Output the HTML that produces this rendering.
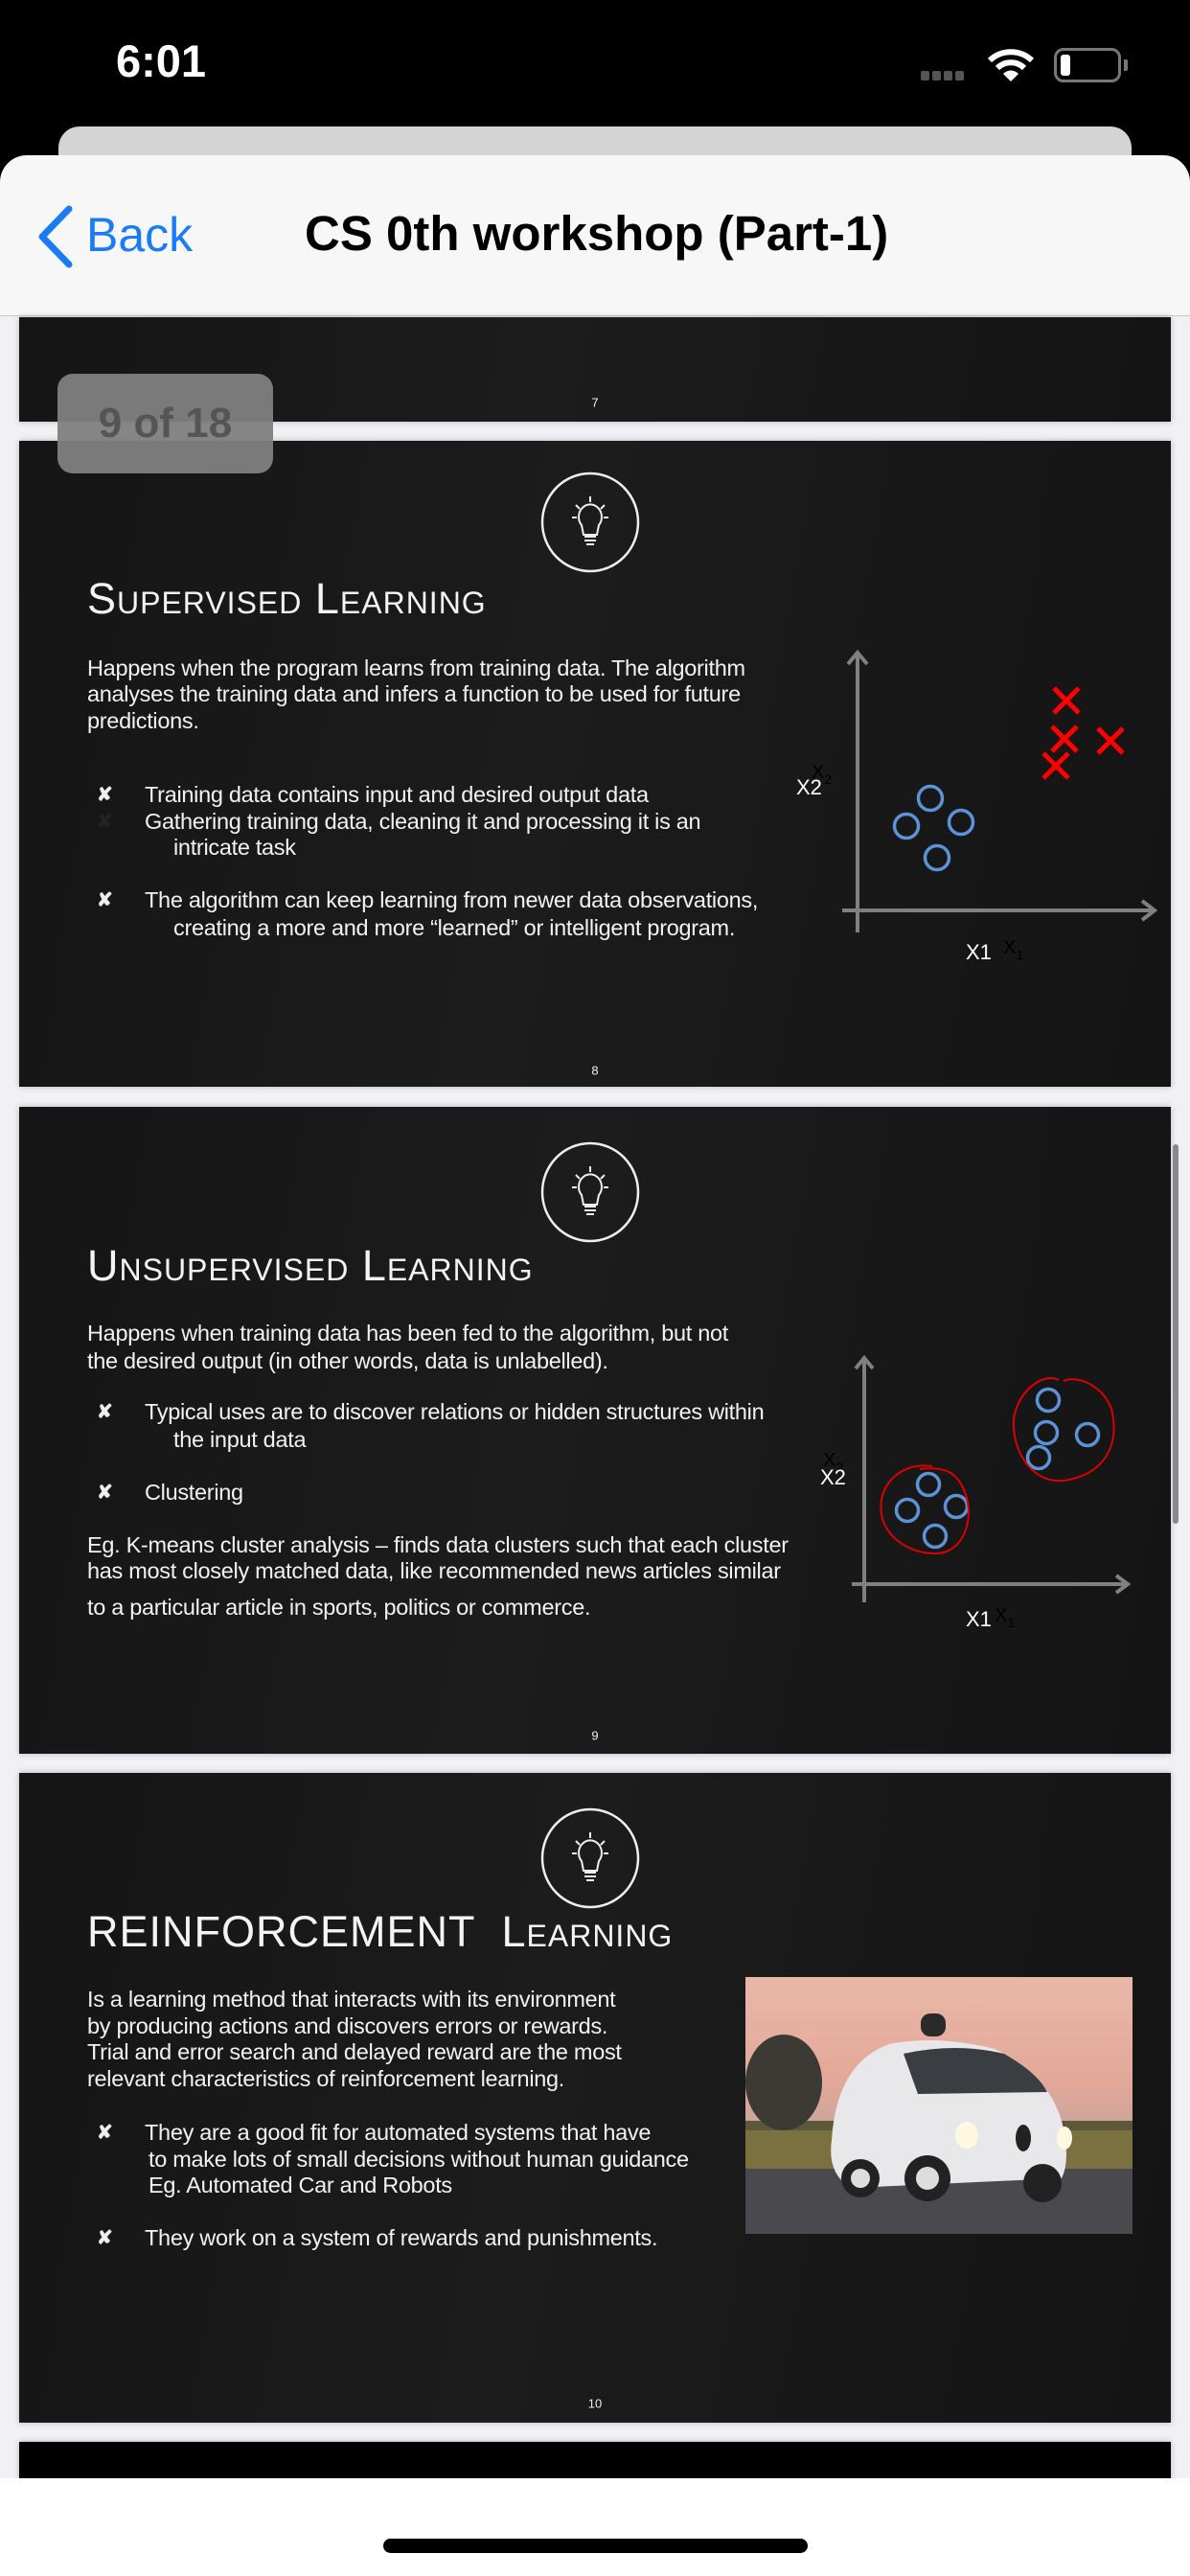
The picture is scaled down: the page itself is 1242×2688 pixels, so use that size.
<!DOCTYPE html>
<html><head><meta charset="utf-8">
<style>
*{margin:0;padding:0;box-sizing:border-box}
body{width:1242px;height:2688px;background:#f0f0f5;position:relative;overflow:hidden;font-family:"Liberation Sans",sans-serif}
.abs{position:absolute}
.status{left:0;top:0;width:1242px;height:200px;background:#000}
.slide{position:absolute;left:20px;width:1202px;background:linear-gradient(100deg,#151515 0%,#1c1c1d 45%,#141414 100%);box-shadow:0 0 6px rgba(0,0,0,.25);overflow:hidden}
.t{position:absolute;white-space:nowrap;color:#f2f2f2;font-size:23.5px;line-height:28px;transform:translateY(-50%);letter-spacing:-0.3px}
.title{position:absolute;white-space:nowrap;color:#f4f4f4;font-size:45px;font-variant:small-caps;letter-spacing:1px;transform:translateY(-50%)}
.b{position:absolute;color:#eee;font-size:20px;font-weight:bold;transform:translateY(-50%)}
.pn{position:absolute;left:0;width:1202px;text-align:center;color:#eee;font-size:13px;transform:translateY(-50%)}
</style></head><body>
<div class="abs status"></div>
<div class="abs" style="left:121px;top:36px;color:#fff;font-size:47px;font-weight:bold">6:01</div>
<div class="abs" style="left:961px;top:74px;width:9px;height:10px;background:#555;border-radius:2px"></div>
<div class="abs" style="left:973px;top:74px;width:9px;height:10px;background:#555;border-radius:2px"></div>
<div class="abs" style="left:985px;top:74px;width:9px;height:10px;background:#555;border-radius:2px"></div>
<div class="abs" style="left:997px;top:74px;width:9px;height:10px;background:#555;border-radius:2px"></div>
<svg class="abs" style="left:1030px;top:48px" width="50" height="40" viewBox="0 0 50 40"><path d="M3 15 A32 32 0 0 1 47 15" stroke="#fff" stroke-width="6" fill="none"/><path d="M11 23 A20 20 0 0 1 39 23" stroke="#fff" stroke-width="6" fill="none"/><path d="M25 37 L17 29 A11 11 0 0 1 33 29 Z" fill="#fff"/></svg>
<div class="abs" style="left:1100px;top:50px;width:70px;height:36px;border:3px solid #777;border-radius:10px"></div>
<div class="abs" style="left:1107px;top:57px;width:10px;height:22px;background:#fff;border-radius:3px"></div>
<div class="abs" style="left:1173px;top:62px;width:4px;height:12px;background:#777;border-radius:0 2px 2px 0"></div>
<div class="abs" style="left:61px;top:132px;width:1120px;height:60px;background:#d4d4d4;border-radius:22px 22px 0 0"></div>
<div class="abs" style="left:0;top:162px;width:1242px;height:168px;background:#f7f7f7;border-radius:28px 28px 0 0;border-bottom:1px solid #c8c8c8"></div>
<svg class="abs" style="left:34px;top:212px" width="46" height="70"><path d="M38 6 L10 35 L38 64" stroke="#1a7cf5" stroke-width="7" fill="none" stroke-linecap="round" stroke-linejoin="round"/></svg>
<div class="abs" style="left:90px;top:216px;color:#1a7cf5;font-size:50px">Back</div>
<div class="abs" style="left:318px;top:214px;color:#000;font-size:51px;font-weight:bold;letter-spacing:0px">CS 0th workshop (Part-1)</div>

<!-- slide 7 -->
<div class="slide" style="top:331px;height:109px"><div class="pn" style="top:89px">7</div></div>

<!-- slide 8 -->
<div class="slide" style="top:460px;height:674px">
<svg class="abs" style="left:541px;top:30px" width="110" height="110"><ellipse cx="55" cy="55" rx="50" ry="51" stroke="#eee" stroke-width="2.5" fill="none"/><path d="M46 58 a12 13 0 1 1 18 0 l-2 10 h-14 z" stroke="#eee" stroke-width="2" fill="none"/><path d="M49 70h12M49 74h12M51 78h8M55 28v6M40 37l4 4M70 37l-4 4M36 50h5M74 50h-5" stroke="#eee" stroke-width="2"/></svg>
<div class="title" style="left:71px;top:165px">Supervised Learning</div>
<div class="t" style="left:71px;top:237px">Happens when the program learns from training data. The algorithm</div>
<div class="t" style="left:71px;top:264px">analyses the training data and infers a function to be used for future</div>
<div class="t" style="left:71px;top:292px">predictions.</div>
<div class="b" style="left:81px;top:369px">✘</div><div class="t" style="left:131px;top:369px">Training data contains input and desired output data</div>
<div class="b" style="left:81px;top:397px;color:#222">✘</div><div class="t" style="left:131px;top:397px">Gathering training data, cleaning it and processing it is an</div>
<div class="t" style="left:161px;top:424px">intricate task</div>
<div class="b" style="left:81px;top:479px">✘</div><div class="t" style="left:131px;top:479px">The algorithm can keep learning from newer data observations,</div>
<div class="t" style="left:161px;top:508px">creating a more and more “learned” or intelligent program.</div>
<svg class="abs" style="left:760px;top:190px" width="440" height="360" viewBox="780 650 440 360">
<g stroke="#808080" stroke-width="4" fill="none"><path d="M895 683 V973 M879 950 H1203"/><path d="M885 693 L895 681 L905 693 M1192 940 L1205 950 L1192 960"/></g>
<g stroke="#5b93d6" stroke-width="3.5" fill="none"><circle cx="971" cy="833" r="12.5"/><circle cx="946" cy="862" r="12.5"/><circle cx="1003" cy="858" r="12.5"/><circle cx="978" cy="895" r="12.5"/></g>
<g stroke="#f00" stroke-width="5"><path d="M1100 718l26 26M1126 718l-26 26M1098 758l26 26M1124 758l-26 26M1146 760l26 26M1172 760l-26 26M1089 786l26 26M1115 786l-26 26"/></g>
<text x="847" y="812" font-size="20" fill="#000" font-family="Liberation Sans">X<tspan font-size="14" dy="6">2</tspan></text>
<text x="831" y="829" font-size="22" fill="#fff" font-family="Liberation Sans">X2</text>
<text x="1008" y="1001" font-size="22" fill="#fff" font-family="Liberation Sans">X1</text>
<text x="1047" y="995" font-size="20" fill="#000" font-family="Liberation Sans">X<tspan font-size="14" dy="6">1</tspan></text>
</svg>
<div class="pn" style="top:657px">8</div>
</div>

<!-- slide 9 -->
<div class="slide" style="top:1155px;height:675px">
<svg class="abs" style="left:541px;top:34px" width="110" height="110"><ellipse cx="55" cy="55" rx="50" ry="51" stroke="#eee" stroke-width="2.5" fill="none"/><path d="M46 58 a12 13 0 1 1 18 0 l-2 10 h-14 z" stroke="#eee" stroke-width="2" fill="none"/><path d="M49 70h12M49 74h12M51 78h8M55 28v6M40 37l4 4M70 37l-4 4M36 50h5M74 50h-5" stroke="#eee" stroke-width="2"/></svg>
<div class="title" style="left:71px;top:166px">Unsupervised Learning</div>
<div class="t" style="left:71px;top:236px">Happens when training data has been fed to the algorithm, but not</div>
<div class="t" style="left:71px;top:265px">the desired output (in other words, data is unlabelled).</div>
<div class="b" style="left:81px;top:318px">✘</div><div class="t" style="left:131px;top:318px">Typical uses are to discover relations or hidden structures within</div>
<div class="t" style="left:161px;top:347px">the input data</div>
<div class="b" style="left:81px;top:402px">✘</div><div class="t" style="left:131px;top:402px">Clustering</div>
<div class="t" style="left:71px;top:457px">Eg. K-means cluster analysis – finds data clusters such that each cluster</div>
<div class="t" style="left:71px;top:484px">has most closely matched data,  like recommended news articles similar</div>
<div class="t" style="left:71px;top:522px">to a particular article in sports, politics or commerce.</div>
<svg class="abs" style="left:760px;top:225px" width="440" height="360" viewBox="780 1380 440 360">
<g stroke="#808080" stroke-width="4" fill="none"><path d="M902 1418 V1672 M889 1653 H1175"/><path d="M893 1428 L902 1417 L911 1428 M1165 1644 L1177 1653 L1165 1662"/></g>
<g stroke="#5b93d6" stroke-width="3.5" fill="none"><circle cx="969" cy="1549" r="11.5"/><circle cx="947" cy="1576" r="11.5"/><circle cx="998" cy="1572" r="11.5"/><circle cx="976" cy="1603" r="11.5"/><circle cx="1094" cy="1461" r="11.5"/><circle cx="1092" cy="1495" r="11.5"/><circle cx="1135" cy="1497" r="11.5"/><circle cx="1084" cy="1521" r="11.5"/></g>
<g stroke="#d00" stroke-width="2" fill="none"><path d="M973 1530 C940 1525 915 1550 920 1580 C925 1610 960 1625 985 1620 C1010 1612 1015 1580 1008 1560 C1000 1535 985 1530 960 1533"/><path d="M1105 1440 C1085 1430 1055 1460 1058 1490 C1060 1520 1080 1548 1110 1545 C1150 1540 1170 1510 1160 1470 C1150 1445 1125 1435 1110 1441"/></g>
<text x="859" y="1530" font-size="20" fill="#000" font-family="Liberation Sans">X<tspan font-size="14" dy="6">2</tspan></text>
<text x="856" y="1549" font-size="22" fill="#fff" font-family="Liberation Sans">X2</text>
<text x="1008" y="1697" font-size="22" fill="#fff" font-family="Liberation Sans">X1</text>
<text x="1038" y="1692" font-size="20" fill="#000" font-family="Liberation Sans">X<tspan font-size="14" dy="6">1</tspan></text>
</svg>
<div class="pn" style="top:656px">9</div>
</div>

<!-- slide 10 -->
<div class="slide" style="top:1850px;height:678px">
<svg class="abs" style="left:541px;top:34px" width="110" height="110"><ellipse cx="55" cy="55" rx="50" ry="51" stroke="#eee" stroke-width="2.5" fill="none"/><path d="M46 58 a12 13 0 1 1 18 0 l-2 10 h-14 z" stroke="#eee" stroke-width="2" fill="none"/><path d="M49 70h12M49 74h12M51 78h8M55 28v6M40 37l4 4M70 37l-4 4M36 50h5M74 50h-5" stroke="#eee" stroke-width="2"/></svg>
<div class="title" style="left:71px;top:166px">REINFORCEMENT&nbsp; Learning</div>
<div class="t" style="left:71px;top:236px">Is a learning method that interacts with its environment</div>
<div class="t" style="left:71px;top:264px">by producing actions and discovers errors or rewards.</div>
<div class="t" style="left:71px;top:291px">Trial and error search and delayed reward are the most</div>
<div class="t" style="left:71px;top:319px">relevant characteristics of reinforcement learning.</div>
<div class="b" style="left:81px;top:375px">✘</div><div class="t" style="left:131px;top:375px">They are a good fit for automated systems that have</div>
<div class="t" style="left:135px;top:403px">to make lots of small decisions without human guidance</div>
<div class="t" style="left:135px;top:430px">Eg. Automated Car and Robots</div>
<div class="b" style="left:81px;top:485px">✘</div><div class="t" style="left:131px;top:485px">They work on a system of rewards and punishments.</div>
<svg class="abs" style="left:758px;top:213px" width="404" height="268" viewBox="0 0 404 268">
<defs><linearGradient id="sky" x1="0" y1="0" x2="0" y2="1"><stop offset="0" stop-color="#e9b8a8"/><stop offset="0.4" stop-color="#e3a898"/><stop offset="0.6" stop-color="#c9a49c"/></linearGradient></defs>
<rect width="404" height="268" fill="url(#sky)"/>
<rect y="150" width="404" height="50" fill="#5a5a3a"/>
<rect y="160" width="404" height="40" fill="#7a7040"/>
<rect y="200" width="404" height="68" fill="#4a4a4e"/>
<ellipse cx="40" cy="110" rx="40" ry="50" fill="#3b3a35"/>
<path d="M90 170 Q95 90 150 70 Q200 60 260 75 Q315 100 330 150 Q340 190 330 210 L110 220 Q85 205 90 170Z" fill="#e8e8ea"/>
<path d="M165 80 Q220 68 270 80 Q305 100 315 120 L180 122 Z" fill="#3a3e42"/>
<rect x="183" y="38" width="26" height="24" rx="10" fill="#2a2a2a"/>
<circle cx="120" cy="210" r="20" fill="#222"/><circle cx="190" cy="210" r="24" fill="#222"/><circle cx="310" cy="215" r="20" fill="#222"/>
<circle cx="120" cy="210" r="10" fill="#ddd"/><circle cx="190" cy="210" r="12" fill="#ddd"/>
<ellipse cx="231" cy="165" rx="12" ry="14" fill="#fff8e0"/><ellipse cx="333" cy="168" rx="8" ry="12" fill="#fff8e0"/>
<ellipse cx="290" cy="168" rx="8" ry="14" fill="#222"/>
</svg>
<div class="pn" style="top:658px">10</div>
</div>

<!-- slide 11 -->
<div class="slide" style="top:2548px;height:40px;background:#000"></div>

<div class="abs" style="left:1224px;top:1194px;width:6px;height:396px;background:#8a8a8a;border-radius:3px"></div>
<div class="abs" style="left:60px;top:390px;width:225px;height:104px;background:rgba(128,128,128,0.95);border-radius:16px;color:#555;font-size:44px;font-weight:bold;text-align:center;line-height:104px">9 of 18</div>
<div class="abs" style="left:0;top:2586px;width:1242px;height:102px;background:#fff"></div>
<div class="abs" style="left:400px;top:2649px;width:443px;height:15px;background:#000;border-radius:8px"></div>
</body></html>
